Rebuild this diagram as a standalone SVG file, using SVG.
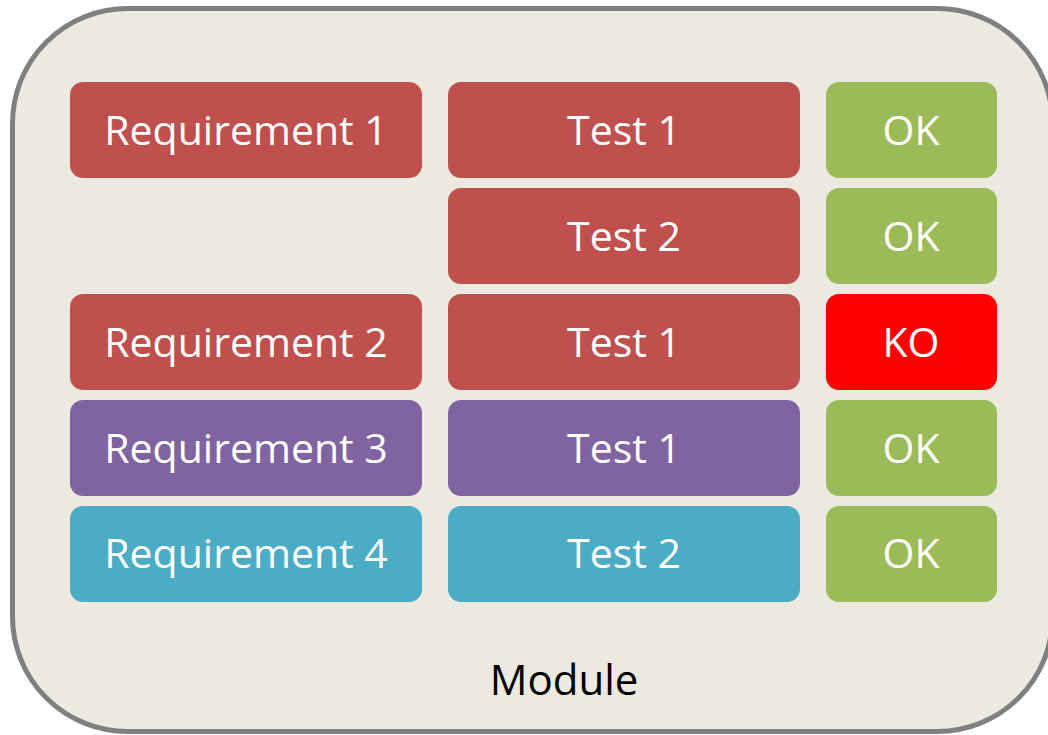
<svg xmlns="http://www.w3.org/2000/svg" width="1048" height="735" viewBox="0 0 1048 735">
<style>
.box{stroke:none}
.red{fill:#C0504D}
.pur{fill:#8064A2}
.teal{fill:#4BACC6}
.grn{fill:#9BBB59}
.ko{fill:#FF0000}
.t{font-family:"Open Sans","Noto Sans",sans-serif;font-size:41px;fill:#FFFFFF;text-anchor:middle}
.m{font-family:"Open Sans","Noto Sans",sans-serif;font-size:42px;fill:#000000;text-anchor:middle}
</style>
<rect width="1048" height="735" fill="#FFFFFF"/>
<g id="module">
<rect x="12.5" y="8.5" width="1040" height="723" rx="115" ry="115" fill="#ECEAE0" stroke="#808080" stroke-width="5"/>
<text class="m" x="564" y="695">Module</text>
</g>
<g id="req1"><rect class="box red" x="70" y="82" width="352" height="96" rx="13"/><text class="t" x="246" y="145">Requirement 1</text></g>
<g id="req2"><rect class="box red" x="70" y="294" width="352" height="96" rx="13"/><text class="t" x="246" y="357">Requirement 2</text></g>
<g id="req3"><rect class="box pur" x="70" y="400" width="352" height="96" rx="13"/><text class="t" x="246" y="463">Requirement 3</text></g>
<g id="req4"><rect class="box teal" x="70" y="506" width="352" height="96" rx="13"/><text class="t" x="246" y="568">Requirement 4</text></g>
<g id="test1a"><rect class="box red" x="448" y="82" width="352" height="96" rx="13"/><text class="t" x="624" y="145">Test 1</text></g>
<g id="test2a"><rect class="box red" x="448" y="188" width="352" height="96" rx="13"/><text class="t" x="624" y="251">Test 2</text></g>
<g id="test1b"><rect class="box red" x="448" y="294" width="352" height="96" rx="13"/><text class="t" x="624" y="357">Test 1</text></g>
<g id="test1c"><rect class="box pur" x="448" y="400" width="352" height="96" rx="13"/><text class="t" x="624" y="463">Test 1</text></g>
<g id="test2b"><rect class="box teal" x="448" y="506" width="352" height="96" rx="13"/><text class="t" x="624" y="568">Test 2</text></g>
<g id="ok1"><rect class="box grn" x="826" y="82" width="171" height="96" rx="13"/><text class="t" x="911" y="145">OK</text></g>
<g id="ok2"><rect class="box grn" x="826" y="188" width="171" height="96" rx="13"/><text class="t" x="911" y="251">OK</text></g>
<g id="ko1"><rect class="box ko" x="826" y="294" width="171" height="96" rx="13"/><text class="t" x="911" y="357">KO</text></g>
<g id="ok3"><rect class="box grn" x="826" y="400" width="171" height="96" rx="13"/><text class="t" x="911" y="463">OK</text></g>
<g id="ok4"><rect class="box grn" x="826" y="506" width="171" height="96" rx="13"/><text class="t" x="911" y="568">OK</text></g>
<g id="connectors"/>
</svg>
